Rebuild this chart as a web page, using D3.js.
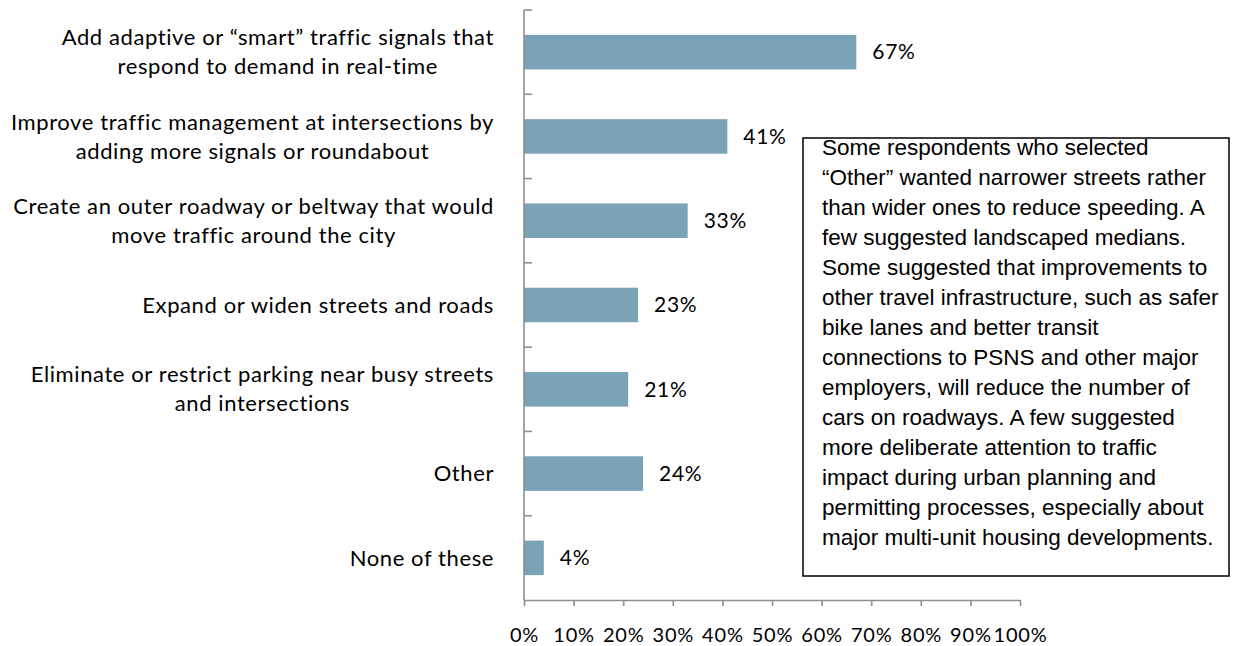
<!DOCTYPE html>
<html>
<head>
<meta charset="utf-8">
<script src="https://cdn.jsdelivr.net/npm/d3@7"></script>
<style>
  html, body { margin: 0; padding: 0; background: #fff; }
  svg { display: block; }
</style>
</head>
<body>
<svg id="chart" width="1245" height="646"></svg>
<script>
// Survey options (top to bottom) and the share of respondents choosing each
const categories = [
  ["Add adaptive or \u201csmart\u201d traffic signals that", "respond to demand in real-time"],
  ["Improve traffic management at intersections by", "adding more signals or roundabout"],
  ["Create an outer roadway or beltway that would", "move traffic around the city"],
  ["Expand or widen streets and roads"],
  ["Eliminate or restrict parking near busy streets", "and intersections"],
  ["Other"],
  ["None of these"]
];
const values = [67, 41, 33, 23, 21, 24, 4];
const xTicks = [0, 10, 20, 30, 40, 50, 60, 70, 80, 90, 100];
const noteLines = [
  "Some respondents who selected",
  "\u201cOther\u201d wanted narrower streets rather",
  "than wider ones to reduce speeding. A",
  "few suggested landscaped medians.",
  "Some suggested that improvements to",
  "other travel infrastructure, such as safer",
  "bike lanes and better transit",
  "connections to PSNS and other major",
  "employers, will reduce the number of",
  "cars on roadways. A few suggested",
  "more deliberate attention to traffic",
  "impact during urban planning and",
  "permitting processes, especially about",
  "major multi-unit housing developments."
];

const svg = d3.select("#chart");
const plotL = 524, plotR = 1020, plotT = 10, plotB = 600;
const labelFont = "Lato, 'Open Sans', sans-serif";
const axisColor = "#8f8f8f";

const x = d3.scaleLinear().domain([0, 100]).range([plotL, plotR]);
const y = d3.scaleBand().domain(d3.range(categories.length)).range([plotT, plotB])
  .paddingInner(0.59).paddingOuter(0.295);

// Bars
svg.append("g").selectAll("rect").data(values).join("rect")
  .attr("x", x(0))
  .attr("y", (d, i) => y(i))
  .attr("width", d => x(d) - x(0))
  .attr("height", y.bandwidth())
  .attr("fill", "#7aa3b7");

// Value labels
svg.append("g").selectAll("text").data(values).join("text")
  .attr("x", d => x(d) + 16)
  .attr("y", (d, i) => y(i) + y.bandwidth() / 2)
  .attr("dy", "0.35em")
  .attr("font-family", labelFont)
  .attr("font-size", 21)
  .attr("letter-spacing", 0.7)
  .attr("fill", "#000")
  .text(d => d + "%");

// Vertical axis with boundary ticks between categories
const step = (plotB - plotT) / categories.length;
const yAxis = svg.append("g").attr("stroke", axisColor).attr("stroke-width", 1.6);
yAxis.append("line").attr("x1", plotL).attr("x2", plotL).attr("y1", plotT).attr("y2", plotB);
yAxis.selectAll("line.tick").data(d3.range(categories.length)).join("line")
  .attr("class", "tick")
  .attr("x1", plotL).attr("x2", plotL + 8)
  .attr("y1", i => plotT + i * step).attr("y2", i => plotT + i * step);

// Horizontal axis
const xAxis = d3.axisBottom(x).tickValues(xTicks).tickSize(6).tickSizeOuter(0)
  .tickFormat(d => d + "%");
const gx = svg.append("g").attr("transform", `translate(0,${plotB})`).call(xAxis);
gx.select(".domain").attr("stroke", axisColor).attr("stroke-width", 1.6);
gx.selectAll(".tick line").attr("stroke", axisColor).attr("stroke-width", 1.6);
gx.selectAll(".tick text")
  .attr("y", 28)
  .attr("font-family", labelFont)
  .attr("font-size", 20)
  .attr("letter-spacing", 0.8)
  .attr("fill", "#000");

// Category labels: right-aligned blocks, lines centred within each block
const labelRight = 494, lineH = 29;
const catG = svg.append("g");
categories.forEach((lines, i) => {
  const cy = y(i) + y.bandwidth() / 2;
  const g = catG.append("g");
  const texts = lines.map((s, k) => g.append("text")
    .attr("font-family", labelFont)
    .attr("font-size", 22)
    .attr("letter-spacing", 0.6)
    .attr("fill", "#000")
    .attr("text-anchor", "middle")
    .attr("y", cy + (k - (lines.length - 1) / 2) * lineH)
    .attr("dy", "0.35em")
    .text(s));
  const w = d3.max(texts, t => t.node().getComputedTextLength());
  texts.forEach(t => t.attr("x", labelRight - w / 2));
});

// Note box
const box = { x: 803, y: 138, w: 426, h: 438 };
svg.append("rect")
  .attr("x", box.x).attr("y", box.y).attr("width", box.w).attr("height", box.h)
  .attr("fill", "#fff").attr("stroke", "#000").attr("stroke-width", 1.5);
svg.append("g").selectAll("text").data(noteLines).join("text")
  .attr("x", box.x + 19)
  .attr("y", (d, i) => 147 + i * 30)
  .attr("dy", "0.35em")
  .attr("font-family", "'Liberation Sans', Arial, sans-serif")
  .attr("font-size", 22.5)
  .attr("fill", "#000")
  .text(d => d);
</script>
</body>
</html>
